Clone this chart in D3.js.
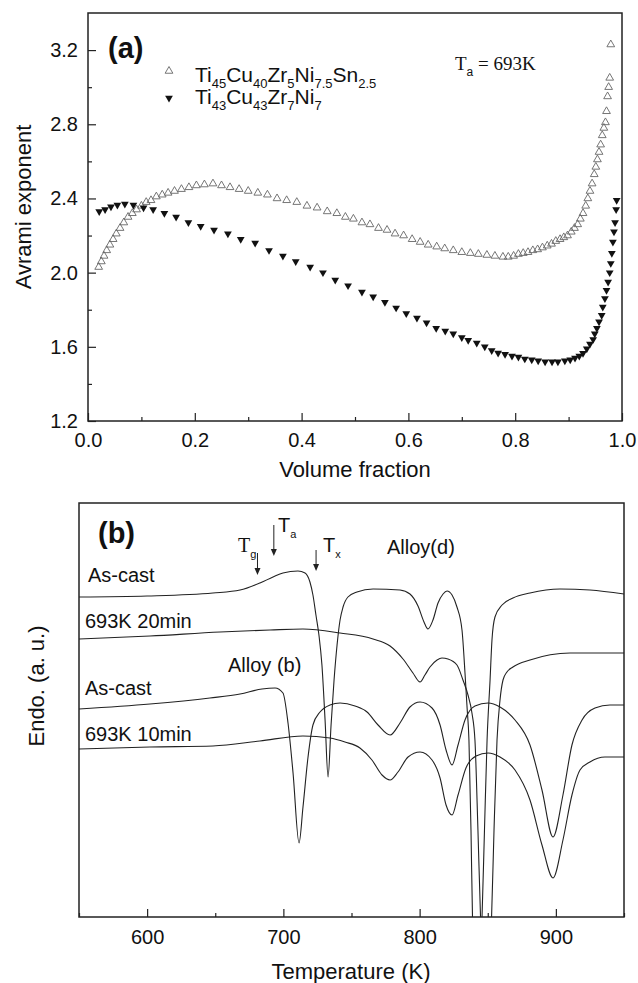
<!DOCTYPE html>
<html>
<head>
<meta charset="utf-8">
<script src="https://cdn.jsdelivr.net/npm/d3@7"></script>
<style>
  body { margin: 0; background: #fff; }
  text { font-family: Arial, "Liberation Sans", sans-serif; fill: #111; }
  .serif { font-family: "Times New Roman", "Liberation Serif", serif; }
</style>
</head>
<body>
<script>
// ---- panel (a): Avrami exponent vs volume fraction ----
// Ti45Cu40Zr5Ni7.5Sn2.5 (open triangles)
var fracOpen = [0.020,0.025,0.030,0.035,0.041,0.047,0.053,0.060,0.067,0.075,
  0.083,0.091,0.100,0.109,0.118,0.128,0.139,0.150,0.162,0.175,
  0.189,0.203,0.218,0.234,0.250,0.266,0.283,0.300,0.318,0.336,
  0.354,0.372,0.391,0.410,0.429,0.448,0.466,0.482,0.497,0.513,
  0.528,0.544,0.560,0.575,0.591,0.607,0.622,0.637,0.653,0.668,
  0.684,0.700,0.716,0.731,0.747,0.762,0.777,0.787,0.797,0.806,
  0.815,0.824,0.833,0.842,0.851,0.860,0.868,0.876,0.884,0.891,
  0.898,0.905,0.911,0.917,0.922,0.927,0.932,0.936,0.940,0.944,
  0.948,0.951,0.954,0.957,0.960,0.963,0.966,0.969,0.971,0.973,
  0.975,0.977,0.979];
var nOpen = [2.03,2.06,2.09,2.12,2.15,2.18,2.21,2.24,2.27,2.30,
  2.32,2.34,2.36,2.38,2.39,2.41,2.42,2.43,2.44,2.45,
  2.46,2.47,2.475,2.48,2.47,2.46,2.45,2.44,2.43,2.42,
  2.40,2.39,2.38,2.36,2.35,2.33,2.32,2.30,2.29,2.27,
  2.26,2.24,2.23,2.21,2.20,2.18,2.165,2.15,2.14,2.13,
  2.12,2.11,2.105,2.10,2.095,2.09,2.085,2.085,2.09,2.10,
  2.105,2.11,2.12,2.125,2.135,2.145,2.155,2.17,2.18,2.19,
  2.20,2.22,2.24,2.26,2.29,2.32,2.36,2.40,2.44,2.48,
  2.53,2.57,2.61,2.65,2.69,2.74,2.78,2.81,2.87,2.95,
  3.00,3.05,3.23];
// Ti43Cu43Zr7Ni7 (filled triangles)
var fracFill = [0.021,0.032,0.043,0.055,0.069,0.085,0.104,0.122,0.143,0.165,
  0.188,0.211,0.236,0.262,0.286,0.313,0.339,0.365,0.389,0.416,
  0.440,0.463,0.487,0.513,0.534,0.556,0.577,0.596,0.616,0.634,
  0.652,0.669,0.684,0.700,0.712,0.728,0.743,0.756,0.768,0.781,
  0.794,0.806,0.818,0.831,0.843,0.856,0.869,0.880,0.893,0.903,
  0.912,0.920,0.927,0.934,0.940,0.946,0.949,0.953,0.957,0.962,
  0.964,0.968,0.971,0.974,0.977,0.979,0.981,0.983,0.985,0.987,
  0.989,0.990];
var nFill = [2.33,2.34,2.355,2.365,2.37,2.365,2.35,2.34,2.32,2.30,
  2.27,2.25,2.23,2.21,2.18,2.16,2.12,2.09,2.06,2.03,
  2.00,1.96,1.93,1.895,1.87,1.84,1.81,1.78,1.755,1.73,
  1.70,1.685,1.67,1.65,1.635,1.62,1.60,1.58,1.567,1.56,
  1.55,1.545,1.535,1.53,1.525,1.52,1.52,1.52,1.525,1.53,
  1.54,1.55,1.565,1.59,1.615,1.64,1.67,1.70,1.735,1.77,
  1.815,1.86,1.905,1.95,2.00,2.05,2.105,2.165,2.22,2.27,
  2.34,2.39];
var fracTicks = [0, 0.2, 0.4, 0.6, 0.8, 1.0];
var nTicks = [1.2, 1.6, 2.0, 2.4, 2.8, 3.2];

// ---- panel (b): DSC traces ----
var tempD1 = [550,599.9,648.3,668.2,682.8,692.4,699.7,710.7,715.9,719.5,721.7,723.9,726.1,728.3,730.6,732.8,735.0,737.2,739.4,741.6,
  743.8,747.4,754.0,765.8,785.6,792.9,798.8,803.2,806.1,809.8,813.5,817.2,820.1,823.8,827.4,831.1,833.3,834.8,836.2,837.7,
  838.8,842.1,845.8,847.6,849.5,851.7,853.1,855.3,860.5,868.5,881.0,903.0,925.0,950];
var endoD1 = [32.0,32.1,32.4,32.7,33.4,34.0,34.4,34.6,34.4,33.5,32.2,30.2,28.2,25.2,19.7,14.0,19.2,23.7,27.2,29.7,
  31.0,32.0,32.5,32.8,32.7,32.3,31.1,29.5,28.8,29.7,31.4,32.3,32.6,32.2,31.0,28.7,24.4,21.0,17.7,8.7,
  0,-8.3,0,8.7,17.7,23.7,27.7,30.0,31.2,31.9,32.4,32.8,32.7,32.3];
var tempD2 = [550,602.1,653.5,690.2,714.4,741.6,765.8,778.3,787.8,795.1,800.3,803.9,807.6,812.8,816.4,820.8,827.4,831.8,835.5,838.4,
  840.6,842.8,844.7,848.7,852.8,854.6,856.8,859.0,861.2,864.1,868.5,881.0,910.4,950];
var endoD2 = [27.8,28.1,28.5,28.7,28.8,28.4,27.8,27.1,25.8,24.4,23.5,24.2,25.0,25.7,25.9,25.8,25.2,23.7,22.2,20.4,
  17.7,8.7,0,-8.3,0,8.7,17.7,21.7,23.7,24.5,25.0,25.7,26.4,26.4];
var tempB1 = [550,602.1,646.1,668.2,684.3,693.9,699.7,703.4,707.1,711.5,714.4,718.1,721.7,726.9,734.2,741.6,752.6,761.4,769.5,778.3,
  785.6,792.9,800.3,809.1,815.0,819.4,823.8,828.2,833.3,840.6,850.2,859.0,870.0,881.0,889.8,897.9,905.2,911.8,919.2,928.7,
  939.7,950];
var endoB1 = [20.8,21.3,21.9,22.3,22.8,22.9,22.4,19.4,14.4,7.4,11.0,16.0,19.2,20.5,21.2,21.4,21.1,20.5,19.2,18.2,
  19.4,21.0,21.5,20.9,19.2,16.7,15.2,17.2,19.7,21.1,21.4,21.0,19.7,17.2,12.7,8.0,12.2,17.2,19.7,20.9,
  21.2,21.2];
var tempB2 = [550,602.1,648.3,682.8,714.4,734.2,745.2,756.2,765.0,772.4,778.3,784.1,791.5,800.3,809.1,815.0,819.4,823.8,828.2,834.0,
  841.4,850.2,859.0,870.0,881.0,889.8,897.9,905.2,911.8,917.7,925.0,936.0,950];
var endoB2 = [16.8,17.0,17.1,17.6,18.1,17.9,17.5,16.9,15.7,14.2,13.7,14.5,16.0,16.5,15.7,13.9,11.2,10.2,12.2,14.9,
  16.1,16.4,16.0,14.7,11.7,7.2,3.9,7.7,12.2,14.7,15.5,16.0,16.0];
var tempTicks = [600, 700, 800, 900];
var tempMinor = [550, 650, 750, 850, 950];
var markTemps = { g: 681, a: 693, x: 724 };

var svg = d3.select("body").append("svg").attr("width", 638).attr("height", 983);

// text with subscripts: parts = [[str, isSub], ...]
function rich(g, x, y, parts, size, subSize, cls) {
  var t = g.append("text").attr("x", x).attr("y", y).attr("font-size", size);
  if (cls) t.attr("class", cls);
  var shift = 0;
  parts.forEach(function (p) {
    var s = t.append("tspan").text(p[0]);
    if (p[1]) { s.attr("font-size", subSize).attr("dy", 6 - shift); shift = 6; s.style("font-family", "Arial, 'Liberation Sans', sans-serif"); }
    else { s.attr("dy", -shift); shift = 0; }
  });
  return t;
}

// ================= panel (a) =================
var xA = d3.scaleLinear().domain([0, 1]).range([88, 622]);
var yA = d3.scaleLinear().domain([1.2, 3.4]).range([421, 13]);
var gA = svg.append("g");

var tri = d3.symbol().type(d3.symbolTriangle).size(26);
gA.selectAll(".op").data(fracOpen).enter().append("path")
  .attr("d", tri)
  .attr("transform", function (d, i) { return "translate(" + xA(d) + "," + yA(nOpen[i]) + ")"; })
  .attr("fill", "none").attr("stroke", "#666").attr("stroke-width", 0.9);
gA.selectAll(".fl").data(fracFill).enter().append("path")
  .attr("d", tri)
  .attr("transform", function (d, i) { return "translate(" + xA(d) + "," + yA(nFill[i]) + ") rotate(180)"; })
  .attr("fill", "#111");

gA.append("rect").attr("x", 88).attr("y", 13).attr("width", 534).attr("height", 408)
  .attr("fill", "none").attr("stroke", "#222").attr("stroke-width", 1.5);

var axA = gA.append("g").attr("transform", "translate(0,421)")
  .call(d3.axisBottom(xA).tickValues(fracTicks).tickSize(-8).tickPadding(12).tickFormat(d3.format(".1f")));
gA.append("g").attr("transform", "translate(0,421)")
  .call(d3.axisBottom(xA).tickValues([0.1, 0.3, 0.5, 0.7, 0.9]).tickSize(-4).tickFormat(""));
var ayA = gA.append("g").attr("transform", "translate(88,0)")
  .call(d3.axisLeft(yA).tickValues(nTicks).tickSize(-8).tickPadding(10).tickFormat(d3.format(".1f")));
gA.append("g").attr("transform", "translate(88,0)")
  .call(d3.axisLeft(yA).tickValues([1.4, 1.8, 2.2, 2.6, 3.0]).tickSize(-4).tickFormat(""));

gA.append("text").attr("x", 355).attr("y", 477).attr("text-anchor", "middle").attr("font-size", 22).text("Volume fraction");
gA.append("text").attr("transform", "translate(31,207) rotate(-90)").attr("text-anchor", "middle").attr("font-size", 22).text("Avrami exponent");
gA.append("text").attr("x", 108).attr("y", 58).attr("font-size", 29).attr("font-weight", "bold").text("(a)");

// legend
gA.append("path").attr("d", tri).attr("transform", "translate(169,71)").attr("fill", "none").attr("stroke", "#666").attr("stroke-width", 0.9);
gA.append("path").attr("d", tri).attr("transform", "translate(169,98) rotate(180)").attr("fill", "#111");
rich(gA, 195, 82, [["Ti"], ["45", 1], ["Cu"], ["40", 1], ["Zr"], ["5", 1], ["Ni"], ["7.5", 1], ["Sn"], ["2.5", 1]], 21, 13);
rich(gA, 195, 104, [["Ti"], ["43", 1], ["Cu"], ["43", 1], ["Zr"], ["7", 1], ["Ni"], ["7", 1]], 21, 13);
rich(gA, 455, 70, [["T"], ["a", 1], [" = 693K"]], 19, 12, "serif");

// ================= panel (b) =================
var xB = d3.scaleLinear().domain([550, 950]).range([79, 624]);
var yB = d3.scaleLinear().domain([0, 41.4]).range([917, 503]);
var gB = svg.append("g");

svg.append("defs").append("clipPath").attr("id", "clipB")
  .append("rect").attr("x", 79).attr("y", 503).attr("width", 545).attr("height", 414);

var line = d3.line().x(function (d) { return xB(d[0]); }).y(function (d) { return yB(d[1]); }).curve(d3.curveMonotoneX);
[[tempD1, endoD1], [tempD2, endoD2], [tempB1, endoB1], [tempB2, endoB2]].forEach(function (s) {
  gB.append("path").datum(d3.zip(s[0], s[1])).attr("d", line)
    .attr("clip-path", "url(#clipB)")
    .attr("fill", "none").attr("stroke", "#222").attr("stroke-width", 1.1);
});

gB.append("rect").attr("x", 79).attr("y", 503).attr("width", 545).attr("height", 414)
  .attr("fill", "none").attr("stroke", "#222").attr("stroke-width", 1.5);
var axB = gB.append("g").attr("transform", "translate(0,917)")
  .call(d3.axisBottom(xB).tickValues(tempTicks).tickSize(-8).tickPadding(13));
gB.append("g").attr("transform", "translate(0,917)")
  .call(d3.axisBottom(xB).tickValues(tempMinor).tickSize(-4).tickFormat(""));

gB.append("text").attr("x", 351).attr("y", 979).attr("text-anchor", "middle").attr("font-size", 22).text("Temperature (K)");
gB.append("text").attr("transform", "translate(44,686) rotate(-90)").attr("text-anchor", "middle").attr("font-size", 22).text("Endo. (a. u.)");
gB.append("text").attr("x", 98).attr("y", 543).attr("font-size", 29).attr("font-weight", "bold").text("(b)");

var labels = [["As-cast", 88, 582], ["693K 20min", 85, 628], ["Alloy (b)", 228, 672],
  ["As-cast", 85, 695], ["693K 10min", 85, 741], ["Alloy(d)", 387, 554]];
labels.forEach(function (l) {
  gB.append("text").attr("x", l[1]).attr("y", l[2]).attr("font-size", 20).text(l[0]);
});

// arrows Tg, Ta, Tx
function arrow(t, y0, y1) {
  var x = xB(t);
  gB.append("line").attr("x1", x).attr("x2", x).attr("y1", y0).attr("y2", y1 - 5).attr("stroke", "#222").attr("stroke-width", 1);
  gB.append("path").attr("d", "M" + (x - 3) + "," + (y1 - 7) + "L" + (x + 3) + "," + (y1 - 7) + "L" + x + "," + y1 + "Z").attr("fill", "#222");
}
arrow(markTemps.g, 553, 575);
arrow(markTemps.a, 525, 556);
arrow(markTemps.x, 550, 571);
rich(gB, 238, 552, [["T"], ["g", 1]], 20, 11, "serif");
rich(gB, 278, 532, [["T"], ["a", 1]], 20, 11);
rich(gB, 323, 552, [["T"], ["x", 1]], 20, 11);

// axis cosmetics
svg.selectAll(".domain").remove();
svg.selectAll(".tick line").attr("stroke", "#222").attr("stroke-width", 1.2);
svg.selectAll(".tick text").attr("font-size", 20).attr("fill", "#111")
  .style("font-family", "Arial, 'Liberation Sans', sans-serif");
</script>
</body>
</html>
